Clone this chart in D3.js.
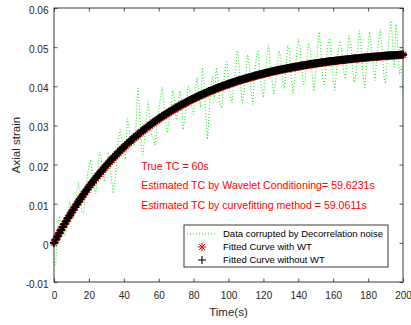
<!DOCTYPE html>
<html>
<head>
<meta charset="utf-8">
<script src="https://cdn.jsdelivr.net/npm/d3@7"></script>
<style>
  html, body { margin: 0; padding: 0; background: #fff; }
  svg { display: block; }
  text { font-family: "Liberation Sans", Arial, Helvetica, sans-serif; }
</style>
</head>
<body>
<svg id="chart" width="411" height="325"></svg>
<script>
// Sampling grid: one sample per second, 0..200 s
const timeStart = 0, timeStep = 1;

// Axial strain corrupted by decorrelation noise
const noisyStrain = [
  -0.0050, -0.0057, 0.0036, 0.0069, 0.0047, 0.0030, 0.0018, 0.0030, 0.0078, 0.0105,
  0.0087, 0.0064, 0.0081, 0.0128, 0.0154, 0.0131, 0.0077, 0.0074, 0.0130, 0.0166,
  0.0197, 0.0213, 0.0174, 0.0139, 0.0125, 0.0181, 0.0231, 0.0221, 0.0177, 0.0157,
  0.0187, 0.0232, 0.0217, 0.0162, 0.0126, 0.0161, 0.0216, 0.0270, 0.0290, 0.0259,
  0.0223, 0.0213, 0.0317, 0.0296, 0.0250, 0.0279, 0.0248, 0.0302, 0.0395, 0.0349,
  0.0243, 0.0226, 0.0270, 0.0323, 0.0362, 0.0320, 0.0273, 0.0267, 0.0250, 0.0303,
  0.0336, 0.0369, 0.0397, 0.0355, 0.0308, 0.0281, 0.0313, 0.0346, 0.0389, 0.0372,
  0.0314, 0.0337, 0.0389, 0.0372, 0.0289, 0.0316, 0.0369, 0.0401, 0.0383, 0.0346,
  0.0328, 0.0390, 0.0422, 0.0384, 0.0346, 0.0448, 0.0410, 0.0322, 0.0264, 0.0336,
  0.0408, 0.0425, 0.0372, 0.0448, 0.0415, 0.0357, 0.0344, 0.0400, 0.0442, 0.0463,
  0.0420, 0.0377, 0.0358, 0.0400, 0.0441, 0.0492, 0.0459, 0.0395, 0.0357, 0.0388,
  0.0439, 0.0481, 0.0452, 0.0383, 0.0354, 0.0436, 0.0477, 0.0493, 0.0429, 0.0390,
  0.0371, 0.0423, 0.0479, 0.0505, 0.0456, 0.0412, 0.0378, 0.0409, 0.0460, 0.0491,
  0.0472, 0.0413, 0.0394, 0.0455, 0.0505, 0.0486, 0.0427, 0.0383, 0.0419, 0.0480,
  0.0520, 0.0501, 0.0442, 0.0403, 0.0414, 0.0474, 0.0510, 0.0486, 0.0426, 0.0387,
  0.0438, 0.0498, 0.0539, 0.0490, 0.0420, 0.0401, 0.0462, 0.0507, 0.0523, 0.0473,
  0.0414, 0.0390, 0.0445, 0.0496, 0.0516, 0.0487, 0.0437, 0.0418, 0.0478, 0.0529,
  0.0509, 0.0450, 0.0410, 0.0431, 0.0491, 0.0542, 0.0502, 0.0432, 0.0393, 0.0443,
  0.0504, 0.0539, 0.0495, 0.0445, 0.0415, 0.0476, 0.0516, 0.0546, 0.0497, 0.0427,
  0.0407, 0.0468, 0.0528, 0.0568, 0.0519, 0.0449, 0.0559, 0.0510, 0.0430, 0.0450,
  0.0381
];

// Fitted curve with wavelet conditioning (TC = 59.6231 s)
const fitWithWT = [
  0.00000, 0.00083, 0.00164, 0.00244, 0.00323, 0.00401, 0.00477, 0.00552, 0.00625, 0.00698,
  0.00769, 0.00839, 0.00908, 0.00976, 0.01042, 0.01108, 0.01172, 0.01235, 0.01298, 0.01359,
  0.01419, 0.01478, 0.01537, 0.01594, 0.01650, 0.01706, 0.01760, 0.01814, 0.01866, 0.01918,
  0.01969, 0.02019, 0.02068, 0.02117, 0.02164, 0.02211, 0.02257, 0.02303, 0.02347, 0.02391,
  0.02434, 0.02476, 0.02518, 0.02559, 0.02599, 0.02639, 0.02678, 0.02716, 0.02754, 0.02791,
  0.02827, 0.02863, 0.02898, 0.02933, 0.02967, 0.03000, 0.03033, 0.03065, 0.03097, 0.03129,
  0.03159, 0.03190, 0.03219, 0.03249, 0.03278, 0.03306, 0.03334, 0.03361, 0.03388, 0.03415,
  0.03441, 0.03466, 0.03491, 0.03516, 0.03540, 0.03564, 0.03588, 0.03611, 0.03634, 0.03656,
  0.03678, 0.03700, 0.03721, 0.03742, 0.03763, 0.03783, 0.03803, 0.03822, 0.03842, 0.03861,
  0.03879, 0.03898, 0.03916, 0.03933, 0.03951, 0.03968, 0.03985, 0.04001, 0.04017, 0.04033,
  0.04049, 0.04065, 0.04080, 0.04095, 0.04110, 0.04124, 0.04138, 0.04152, 0.04166, 0.04180,
  0.04193, 0.04206, 0.04219, 0.04232, 0.04244, 0.04256, 0.04268, 0.04280, 0.04292, 0.04303,
  0.04314, 0.04325, 0.04336, 0.04347, 0.04358, 0.04368, 0.04378, 0.04388, 0.04398, 0.04408,
  0.04417, 0.04427, 0.04436, 0.04445, 0.04454, 0.04462, 0.04471, 0.04480, 0.04488, 0.04496,
  0.04504, 0.04512, 0.04520, 0.04527, 0.04535, 0.04542, 0.04550, 0.04557, 0.04564, 0.04571,
  0.04578, 0.04584, 0.04591, 0.04597, 0.04604, 0.04610, 0.04616, 0.04622, 0.04628, 0.04634,
  0.04640, 0.04645, 0.04651, 0.04656, 0.04662, 0.04667, 0.04672, 0.04677, 0.04682, 0.04687,
  0.04692, 0.04697, 0.04702, 0.04706, 0.04711, 0.04715, 0.04720, 0.04724, 0.04728, 0.04733,
  0.04737, 0.04741, 0.04745, 0.04749, 0.04752, 0.04756, 0.04760, 0.04764, 0.04767, 0.04771,
  0.04774, 0.04778, 0.04781, 0.04784, 0.04788, 0.04791, 0.04794, 0.04797, 0.04800, 0.04803,
  0.04806
];

// Fitted curve without wavelet conditioning (TC = 59.0611 s)
const fitWithoutWT = [
  0.00000, 0.00084, 0.00166, 0.00246, 0.00326, 0.00405, 0.00481, 0.00557, 0.00630, 0.00704,
  0.00776, 0.00846, 0.00916, 0.00984, 0.01051, 0.01117, 0.01182, 0.01245, 0.01309, 0.01370,
  0.01430, 0.01490, 0.01549, 0.01606, 0.01663, 0.01719, 0.01773, 0.01827, 0.01880, 0.01932,
  0.01983, 0.02033, 0.02083, 0.02132, 0.02179, 0.02226, 0.02272, 0.02319, 0.02363, 0.02407,
  0.02450, 0.02493, 0.02535, 0.02576, 0.02616, 0.02656, 0.02695, 0.02733, 0.02771, 0.02808,
  0.02844, 0.02880, 0.02915, 0.02950, 0.02984, 0.03017, 0.03050, 0.03082, 0.03114, 0.03146,
  0.03176, 0.03207, 0.03236, 0.03266, 0.03295, 0.03323, 0.03351, 0.03378, 0.03405, 0.03432,
  0.03458, 0.03483, 0.03508, 0.03533, 0.03557, 0.03581, 0.03605, 0.03628, 0.03651, 0.03673,
  0.03694, 0.03716, 0.03737, 0.03758, 0.03779, 0.03799, 0.03819, 0.03838, 0.03858, 0.03877,
  0.03895, 0.03914, 0.03932, 0.03949, 0.03967, 0.03984, 0.04001, 0.04017, 0.04033, 0.04049,
  0.04064, 0.04080, 0.04095, 0.04110, 0.04125, 0.04139, 0.04153, 0.04167, 0.04181, 0.04195,
  0.04207, 0.04220, 0.04233, 0.04246, 0.04258, 0.04270, 0.04282, 0.04294, 0.04306, 0.04317,
  0.04327, 0.04338, 0.04349, 0.04360, 0.04371, 0.04381, 0.04391, 0.04401, 0.04411, 0.04421,
  0.04429, 0.04439, 0.04448, 0.04457, 0.04466, 0.04474, 0.04483, 0.04492, 0.04500, 0.04508,
  0.04515, 0.04523, 0.04531, 0.04538, 0.04546, 0.04552, 0.04560, 0.04567, 0.04574, 0.04581,
  0.04588, 0.04594, 0.04601, 0.04607, 0.04614, 0.04619, 0.04625, 0.04631, 0.04637, 0.04643,
  0.04649, 0.04654, 0.04660, 0.04665, 0.04671, 0.04675, 0.04680, 0.04685, 0.04690, 0.04695,
  0.04700, 0.04705, 0.04710, 0.04714, 0.04719, 0.04722, 0.04727, 0.04731, 0.04735, 0.04740,
  0.04744, 0.04748, 0.04752, 0.04756, 0.04759, 0.04762, 0.04766, 0.04770, 0.04773, 0.04777,
  0.04780, 0.04784, 0.04787, 0.04790, 0.04794, 0.04796, 0.04799, 0.04802, 0.04805, 0.04808,
  0.04811
];

const xTicks = [0, 20, 40, 60, 80, 100, 120, 140, 160, 180, 200];
const xTickLabels = ["0", "20", "40", "60", "80", "100", "120", "140", "160", "180", "200"];
const yTicks = [-0.01, 0, 0.01, 0.02, 0.03, 0.04, 0.05, 0.06];
const yTickLabels = ["-0.01", "0", "0.01", "0.02", "0.03", "0.04", "0.05", "0.06"];

const legendLabels = [
  "Data corrupted by Decorrelation noise",
  "Fitted Curve with WT",
  "Fitted Curve without WT"
];
const annotations = [
  { t: 50, v: 0.020, text: "True TC = 60s" },
  { t: 50, v: 0.015, text: "Estimated TC by Wavelet Conditioning= 59.6231s" },
  { t: 50, v: 0.010, text: "Estimated TC by curvefitting method = 59.0611s" }
];

// ---- layout ----
const plot = { left: 54, top: 8, right: 403, bottom: 282 };
const axisColor = "#262626";

const svg = d3.select("#chart");

const x = d3.scaleLinear().domain([0, 200]).range([plot.left, plot.right]);
const y = d3.scaleLinear().domain([-0.01, 0.06]).range([plot.bottom, plot.top]);

const toPoints = arr => arr.map((v, i) => ({ t: timeStart + i * timeStep, v }));

// marker shapes
const plusPath = "M-4,0H4M0,-4V4";
const starPath = "M-4.2,0H4.2M0,-4.2V4.2M-3,-3L3,3M-3,3L3,-3";

// noisy data, dotted green
const line = d3.line().x(d => x(d.t)).y(d => y(d.v));
svg.append("path")
  .datum(toPoints(noisyStrain))
  .attr("d", line)
  .attr("fill", "none")
  .attr("stroke", "#00ee00")
  .attr("stroke-width", 1)
  .attr("stroke-dasharray", "1,2");

// fitted curve with WT: red stars
svg.append("g").selectAll("path")
  .data(toPoints(fitWithWT))
  .join("path")
  .attr("transform", d => `translate(${x(d.t)},${y(d.v)})`)
  .attr("d", starPath)
  .attr("fill", "none")
  .attr("stroke", "#ff0000")
  .attr("stroke-width", 1.3);

// fitted curve without WT: black pluses
svg.append("g").selectAll("path")
  .data(toPoints(fitWithoutWT))
  .join("path")
  .attr("transform", d => `translate(${x(d.t)},${y(d.v)})`)
  .attr("d", plusPath)
  .attr("fill", "none")
  .attr("stroke", "#000000")
  .attr("stroke-width", 2.2);

// ---- axes (ticks pointing inward, box) ----
const tickLen = 3.5;
function styleAxis(g) {
  g.select(".domain").remove();
  g.selectAll(".tick line").attr("stroke", axisColor).attr("stroke-width", 0.8);
  g.selectAll(".tick text").attr("fill", axisColor).attr("font-size", 10)
    .attr("font-family", '"Liberation Sans", Arial, sans-serif');
}

svg.append("g")
  .attr("transform", `translate(0,${plot.bottom})`)
  .call(d3.axisBottom(x).tickValues(xTicks)
    .tickFormat((d, i) => xTickLabels[i])
    .tickSizeInner(-tickLen).tickSizeOuter(0).tickPadding(10.2))
  .call(styleAxis);

svg.append("g")
  .attr("transform", `translate(0,${plot.top})`)
  .call(d3.axisTop(x).tickValues(xTicks).tickFormat("")
    .tickSizeInner(-tickLen).tickSizeOuter(0))
  .call(styleAxis);

svg.append("g")
  .attr("transform", `translate(${plot.left},0)`)
  .call(d3.axisLeft(y).tickValues(yTicks)
    .tickFormat((d, i) => yTickLabels[i])
    .tickSizeInner(-tickLen).tickSizeOuter(0).tickPadding(5.5))
  .call(styleAxis)
  .call(g => g.selectAll(".tick text").attr("dy", "0.55em"));

svg.append("g")
  .attr("transform", `translate(${plot.right},0)`)
  .call(d3.axisRight(y).tickValues(yTicks).tickFormat("")
    .tickSizeInner(-tickLen).tickSizeOuter(0))
  .call(styleAxis);

svg.append("rect")
  .attr("x", plot.left).attr("y", plot.top)
  .attr("width", plot.right - plot.left).attr("height", plot.bottom - plot.top)
  .attr("fill", "none").attr("stroke", axisColor).attr("stroke-width", 0.9);

// axis titles
svg.append("text")
  .attr("x", (plot.left + plot.right) / 2).attr("y", 316)
  .attr("text-anchor", "middle")
  .attr("font-size", 11.5).attr("fill", axisColor)
  .text("Time(s)");

svg.append("text")
  .attr("transform", `translate(19.5,${(plot.top + plot.bottom) / 2}) rotate(-90)`)
  .attr("text-anchor", "middle")
  .attr("font-size", 11.5).attr("fill", axisColor)
  .text("Axial strain");

// red annotations
svg.append("g").selectAll("text")
  .data(annotations)
  .join("text")
  .attr("x", d => x(d.t)).attr("y", d => y(d.v)).attr("dy", 5.2)
  .attr("font-size", 10.6).attr("fill", "#ff0000")
  .text(d => d.text);

// ---- legend ----
const lg = { x: 184, y: 225, w: 204, h: 42 };
const legend = svg.append("g");
legend.append("rect")
  .attr("x", lg.x).attr("y", lg.y).attr("width", lg.w).attr("height", lg.h)
  .attr("fill", "#fff").attr("stroke", axisColor).attr("stroke-width", 0.9);

const rowY = [234, 247, 260];
legend.append("line")
  .attr("x1", 187).attr("x2", 217).attr("y1", rowY[0]).attr("y2", rowY[0])
  .attr("stroke", "#00ee00").attr("stroke-width", 1).attr("stroke-dasharray", "1,2");
legend.append("path")
  .attr("transform", `translate(202,${rowY[1]})`).attr("d", starPath)
  .attr("fill", "none").attr("stroke", "#ff0000").attr("stroke-width", 1);
legend.append("path")
  .attr("transform", `translate(202,${rowY[2]})`).attr("d", plusPath)
  .attr("fill", "none").attr("stroke", "#000").attr("stroke-width", 1.1);

legend.selectAll("text.lbl")
  .data(legendLabels)
  .join("text")
  .attr("class", "lbl")
  .attr("x", 223).attr("y", (d, i) => rowY[i] + 3.4)
  .attr("font-size", 9.5).attr("fill", "#000")
  .text(d => d);
</script>
</body>
</html>
